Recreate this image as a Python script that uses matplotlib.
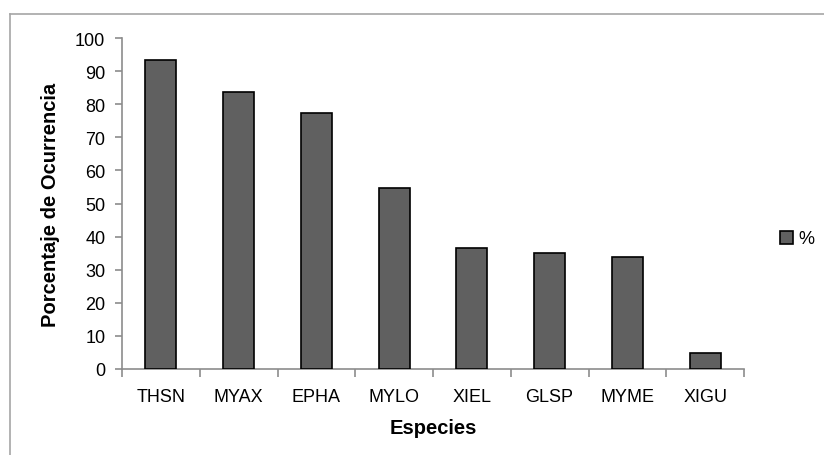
import matplotlib
matplotlib.use("Agg")
import matplotlib.pyplot as plt
from matplotlib.patches import Patch
from matplotlib.lines import Line2D
import numpy as np

species = ["THSN", "MYAX", "EPHA", "MYLO", "XIEL", "GLSP", "MYME", "XIGU"]
occurrence = [93.3, 83.7, 77.3, 54.7, 36.7, 35.0, 33.7, 4.9]
y_ticks = [0, 10, 20, 30, 40, 50, 60, 70, 80, 90, 100]
series_name = "%"

W, H = 824, 456
fig = plt.figure(figsize=(W / 100, H / 100), dpi=100)
fig.patch.set_facecolor("white")

# outer chart frame (light gray)
frame_col = "#a6a6a6"
fig.add_artist(Line2D([10 / W, 10 / W], [0, 1 - 15 / H], transform=fig.transFigure,
                      color=frame_col, lw=1.2))
fig.add_artist(Line2D([10 / W, 1], [1 - 15 / H, 1 - 15 / H], transform=fig.transFigure,
                      color=frame_col, lw=1.2))

ax = fig.add_axes([122 / W, 1 - 370 / H, (744 - 122) / W, (370 - 39) / H])
x = np.arange(len(species))
ax.bar(x, occurrence, width=0.4, color="#606060", edgecolor="black", linewidth=1.2,
       zorder=3)

axis_col = "#8c8c8c"
ax.set_xlim(-0.5, len(species) - 0.5)
ax.set_ylim(0, 100)
for s in ["top", "right"]:
    ax.spines[s].set_visible(False)
for s in ["left", "bottom"]:
    ax.spines[s].set_color(axis_col)
    ax.spines[s].set_linewidth(1.2)

tick_font = dict(family=["Liberation Sans", "DejaVu Sans"], size=13)
ax.set_yticks(y_ticks)
ax.set_yticklabels([str(v) for v in y_ticks], fontdict=tick_font)
ax.tick_params(axis="y", direction="out", length=5, width=1.2, color=axis_col, pad=7)

ax.set_xticks(x)
ax.set_xticklabels(species, fontdict=tick_font)
ax.tick_params(axis="x", which="major", length=0, pad=14)
ax.set_xticks(np.arange(-0.5, len(species)), minor=True)
ax.tick_params(axis="x", which="minor", direction="out", length=6, width=1.2,
               color=axis_col)

label_font = dict(family=["Liberation Sans", "DejaVu Sans"], size=14.5, weight="bold")
ax.set_ylabel("Porcentaje de Ocurrencia", fontdict=label_font, labelpad=11)
ax.set_xlabel("Especies", fontdict=label_font, labelpad=9)

handle = Patch(facecolor="#606060", edgecolor="black", linewidth=1.2)
fig.legend([handle], [series_name], loc="center left",
           bbox_to_anchor=(780 / W, 1 - 240 / H), frameon=False, borderpad=0,
           borderaxespad=0, handlelength=0.7, handleheight=0.7, handletextpad=0.3,
           prop=dict(family=["Liberation Sans", "DejaVu Sans"], size=13))

fig.savefig("out.png", dpi=100, facecolor="white")
